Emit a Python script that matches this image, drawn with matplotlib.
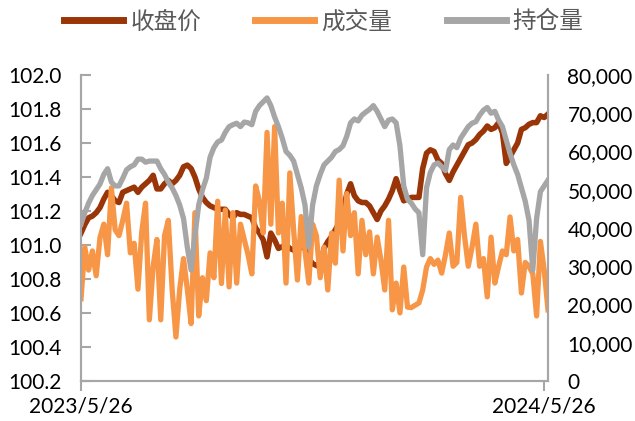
import matplotlib
matplotlib.use("Agg")
import matplotlib.pyplot as plt
import matplotlib.ticker as mticker
import pandas as pd

# dates: one sample every 3 calendar days
dates = pd.date_range("2023-05-26", periods=124, freq="3D")

# 收盘价 (left axis)
close = [
    101.07, 101.12, 101.16, 101.17, 101.19, 101.22, 101.27, 101.31, 101.29, 101.26,
    101.25, 101.31, 101.32, 101.33, 101.34, 101.31, 101.34, 101.36, 101.38, 101.41,
    101.33, 101.33, 101.36, 101.38, 101.36, 101.38, 101.41, 101.46, 101.47, 101.45,
    101.40, 101.33, 101.28, 101.25, 101.23, 101.22, 101.21, 101.21, 101.21, 101.18,
    101.16, 101.19, 101.18, 101.18, 101.17, 101.16, 101.10, 101.07, 101.03, 100.93,
    101.07, 101.03, 100.98, 100.99, 101.00, 100.98, 100.97, 101.00, 100.99, 100.98,
    100.92, 100.89, 100.88, 100.87, 100.98, 101.02, 101.05, 101.09, 101.13, 101.20,
    101.30, 101.36, 101.29, 101.26, 101.25, 101.25, 101.23, 101.19, 101.15, 101.20,
    101.23, 101.27, 101.32, 101.39, 101.32, 101.26, 101.27, 101.28, 101.28, 101.28,
    101.45, 101.54, 101.56, 101.55, 101.50, 101.48, 101.42, 101.38, 101.43, 101.47,
    101.51, 101.55, 101.59, 101.60, 101.62, 101.65, 101.67, 101.70, 101.68, 101.69,
    101.72, 101.66, 101.48, 101.52, 101.56, 101.60, 101.68, 101.69, 101.71, 101.72,
    101.72, 101.76, 101.75, 101.77,
]

# 成交量 (right axis)
volume = [
    21.5, 35, 29, 34, 27.5, 37.5, 41, 33, 50.5, 39.5,
    38, 42, 46.5, 33.5, 36, 24, 39, 46.5, 16, 30,
    37, 16, 38, 42, 24, 11.5, 24, 32, 24, 15,
    44, 17, 27, 21, 33.5, 27, 47, 25.5, 44.7, 24.6,
    44, 25.6, 41, 37, 33, 28, 51, 47, 38.7, 65,
    41, 66.5, 38.7, 46.5, 25.6, 54.4, 39.5, 26.4, 43, 34,
    25.6, 41, 38, 27, 35, 23.8, 38.7, 30.8, 52.5, 34,
    49, 38, 44, 28, 42, 33, 39, 28, 37.6, 31.6,
    23.8, 42, 18.6, 25.6, 17.8, 29.8, 19.3, 19.2, 19.8, 20.4,
    23.8, 29.8, 32, 30.5, 31.6, 28.2, 33, 38.7, 30, 31,
    48, 38, 30, 35, 41, 30, 32, 22, 37.6, 25.6,
    30, 34, 33, 42.9, 34, 37, 23, 31, 30, 28,
    17, 36.5, 29, 18.6,
]

# 持仓量 (right axis)
open_interest = [
    41, 44, 46.5, 48.5, 50, 51.5, 54, 55.5, 52, 51,
    51, 53, 55.2, 56, 56.5, 58, 58, 57.2, 57.5, 57.5,
    57.5, 55.5, 54, 52, 50.5, 48.5, 46, 42.5, 35, 29,
    38, 46, 50, 53, 58.5, 61, 62.5, 63, 65, 66.5,
    67, 67.4, 66.5, 67.7, 67.5, 67, 70.5, 72, 73, 74,
    72, 69, 66.5, 63.5, 60, 59, 57.5, 54, 50.5, 46,
    35, 46, 51, 54, 56.5, 57.5, 58.5, 60, 60.5, 61.5,
    64, 67.5, 68.5, 68, 69.5, 70.3, 71, 72, 70.5, 68.5,
    66.5, 68.2, 68.5, 67.5, 61.5, 51, 47.5, 46.5, 45, 44,
    33, 50.5, 54.5, 56.5, 57, 56, 55, 60.5, 61.7, 61,
    63.5, 65, 66.5, 67.4, 67.8, 69.5, 70.8, 71.5, 70, 70.5,
    68.2, 66.5, 63, 59.5, 56.5, 54, 50.5, 47, 42, 29,
    42.5, 49.5, 51, 52.5,
]

volume = [v * 1000 for v in volume]
open_interest = [v * 1000 for v in open_interest]

c_close = "#9A3508"
c_vol = "#F79646"
c_oi = "#A6A6A6"
spine_c = "#A6A6A6"

plt.rcParams["font.family"] = ["Lato", "DejaVu Sans"]

fig = plt.figure(figsize=(6.35, 4.21), dpi=100)
ax = fig.add_axes([81 / 635, 40 / 421, 467 / 635, 306 / 421])
ax2 = ax.twinx()

l1, = ax.plot(dates, close, color=c_close, lw=4, solid_joinstyle="round", label="收盘价")
l2, = ax2.plot(dates, volume, color=c_vol, lw=3.8, solid_joinstyle="round", label="成交量")
l3, = ax2.plot(dates, open_interest, color=c_oi, lw=3.8, solid_joinstyle="round", label="持仓量")

ax.set_ylim(100.2, 102.0)
ax.set_yticks([100.2 + 0.2 * i for i in range(10)])
ax.yaxis.set_major_formatter(mticker.FormatStrFormatter("%.1f"))
ax2.set_ylim(0, 80000)
ax2.set_yticks(range(0, 80001, 10000))
ax2.yaxis.set_major_formatter(mticker.StrMethodFormatter("{x:,.0f}"))

ax.set_xlim(dates[0], dates[-1])
ax.set_xticks([dates[0], pd.Timestamp("2024-05-26")])
ax.set_xticklabels(["2023/5/26", "2024/5/26"])

for a in (ax, ax2):
    a.spines["top"].set_visible(False)
    for s in ("left", "right", "bottom"):
        a.spines[s].set_color(spine_c)
        a.spines[s].set_linewidth(1.5)

ax.tick_params(axis="y", direction="in", length=7, width=1.5, color=spine_c,
               labelsize=15, pad=14, labelcolor="black")
ax.tick_params(axis="x", direction="out", length=7, width=1.5, color=spine_c,
               labelsize=15, pad=4, labelcolor="black")
ax2.tick_params(axis="y", length=0, labelsize=15, pad=14, labelcolor="black")

fig.legend(handles=[l1, l2, l3], loc="center", bbox_to_anchor=(0.51, 0.948),
           ncol=3, frameon=False, handlelength=2.5, handletextpad=0.3,
           columnspacing=2.3, prop={"family": ["Noto Sans CJK SC", "DejaVu Sans"], "size": 17},
           labelcolor="#595959")
for h in fig.legends[0].legend_handles:
    h.set_linewidth(5)

fig.savefig("out.png", dpi=100)
